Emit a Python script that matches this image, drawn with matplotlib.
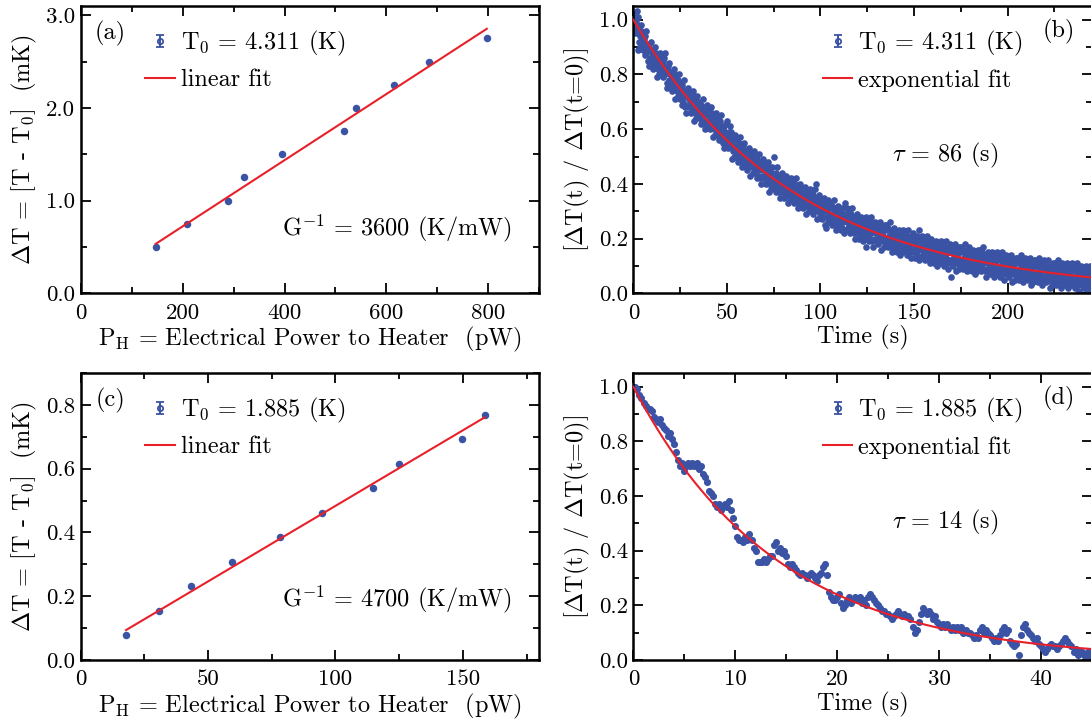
import numpy as np
import matplotlib
matplotlib.use("Agg")
import matplotlib.pyplot as plt
from matplotlib.ticker import MultipleLocator, FormatStrFormatter
from matplotlib.container import ErrorbarContainer
from matplotlib.legend_handler import HandlerErrorbar

plt.rcParams["font.family"] = "cmr10"
plt.rcParams["mathtext.fontset"] = "cm"
plt.rcParams["axes.formatter.use_mathtext"] = True

BLUE = "#3a53a4"
RED = "#e8202a"
FS_TICK = 16.5
FS_TEXT = 17.5

# (a) steady state, T0 = 4.311 K
power_a = [147, 208, 290, 321, 396, 517, 540, 614, 683, 797]
dT_a = [0.50, 0.75, 1.00, 1.25, 1.50, 1.75, 2.00, 2.25, 2.50, 2.75]
fit_a_x = [147, 797]
fit_a_y = [0.533, 2.854]

# (c) steady state, T0 = 1.885 K
power_c = [17.8, 30.6, 43.4, 59.4, 78.4, 94.9, 114.6, 125.1, 149.5, 158.6]
dT_c = [0.077, 0.154, 0.231, 0.308, 0.385, 0.462, 0.538, 0.615, 0.692, 0.769]
fit_c_x = [17.8, 158.6]
fit_c_y = [0.094, 0.761]

# (b) relaxation at 4.311 K, one sample every 0.25 s, values in percent
step_b = 0.25
relax_b = [
    102, 97, 100, 95, 101, 99, 96, 103, 98, 101,
    89, 95, 97, 92, 94, 90, 96, 98, 93, 91,
    89, 95, 90, 93, 87, 94, 91, 88, 96, 90,
    89, 85, 90, 83, 91, 89, 86, 92, 85, 88,
    89, 84, 87, 82, 88, 86, 83, 90, 85, 88,
    79, 85, 87, 82, 84, 80, 86, 88, 83, 81,
    81, 87, 82, 85, 79, 86, 83, 80, 88, 82,
    81, 77, 82, 75, 83, 81, 78, 84, 77, 80,
    81, 76, 79, 74, 80, 78, 75, 82, 77, 80,
    71, 77, 79, 74, 76, 72, 78, 80, 75, 73,
    71, 77, 72, 75, 69, 76, 73, 70, 78, 72,
    72, 68, 73, 66, 74, 72, 69, 75, 68, 71,
    73, 68, 71, 66, 72, 70, 67, 74, 69, 72,
    63, 69, 71, 66, 68, 64, 70, 72, 67, 65,
    64, 70, 65, 68, 62, 69, 66, 63, 71, 65,
    66, 62, 67, 60, 68, 66, 63, 69, 62, 65,
    67, 62, 65, 60, 66, 64, 61, 68, 63, 66,
    57, 63, 65, 60, 62, 58, 64, 66, 61, 59,
    58, 64, 59, 62, 56, 63, 60, 57, 65, 59,
    59, 55, 60, 53, 61, 59, 56, 62, 55, 58,
    63, 55, 58, 53, 59, 57, 54, 61, 56, 59,
    49, 55, 57, 52, 54, 50, 56, 58, 53, 51,
    50, 56, 51, 54, 48, 55, 52, 49, 57, 51,
    52, 48, 53, 46, 54, 52, 49, 55, 48, 51,
    52, 47, 50, 45, 51, 49, 46, 53, 48, 51,
    43, 49, 51, 46, 48, 44, 50, 52, 47, 45,
    44, 50, 45, 48, 42, 49, 46, 43, 51, 45,
    46, 42, 47, 40, 48, 46, 43, 49, 42, 45,
    47, 42, 45, 40, 46, 44, 41, 48, 43, 46,
    37, 43, 45, 40, 42, 38, 44, 46, 41, 39,
    39, 50, 40, 43, 37, 44, 41, 38, 46, 40,
    41, 37, 42, 35, 43, 41, 38, 44, 37, 40,
    42, 37, 40, 35, 41, 39, 36, 43, 38, 41,
    33, 39, 41, 36, 38, 34, 40, 42, 37, 35,
    35, 41, 36, 39, 33, 40, 37, 34, 42, 36,
    37, 33, 38, 31, 39, 37, 34, 40, 33, 36,
    38, 33, 36, 31, 37, 35, 32, 39, 34, 37,
    29, 35, 37, 32, 34, 30, 36, 38, 33, 31,
    31, 37, 32, 35, 29, 36, 33, 30, 38, 32,
    33, 40, 34, 27, 35, 33, 30, 36, 29, 32,
    34, 29, 32, 27, 33, 31, 28, 35, 30, 33,
    25, 31, 24, 28, 30, 26, 32, 34, 29, 27,
    27, 33, 28, 31, 25, 32, 29, 26, 34, 28,
    29, 25, 30, 23, 31, 29, 26, 32, 25, 28,
    30, 25, 28, 23, 29, 27, 24, 31, 26, 29,
    22, 27, 29, 33, 27, 23, 29, 31, 26, 24,
    24, 30, 25, 28, 22, 29, 26, 23, 31, 25,
    26, 22, 27, 20, 28, 26, 23, 29, 22, 25,
    27, 22, 25, 20, 26, 24, 21, 28, 23, 26,
    19, 25, 27, 22, 24, 20, 26, 28, 17, 21,
    21, 27, 22, 25, 19, 26, 23, 20, 28, 22,
    23, 19, 24, 17, 25, 23, 20, 26, 19, 22,
    25, 20, 23, 18, 24, 22, 19, 26, 21, 24,
    16, 22, 24, 19, 21, 17, 23, 25, 20, 18,
    19, 25, 20, 23, 17, 24, 21, 18, 26, 20,
    21, 17, 22, 15, 23, 21, 18, 24, 17, 20,
    22, 17, 20, 15, 21, 19, 16, 23, 18, 21,
    14, 20, 22, 17, 19, 15, 21, 23, 18, 16,
    16, 22, 17, 20, 14, 21, 18, 15, 23, 17,
    19, 15, 20, 13, 21, 19, 16, 22, 15, 18,
    20, 15, 18, 13, 19, 17, 14, 21, 16, 19,
    12, 23, 20, 17, 17, 13, 19, 21, 16, 14,
    14, 20, 15, 18, 12, 19, 16, 13, 21, 15,
    17, 13, 18, 11, 19, 17, 14, 20, 13, 16,
    18, 13, 16, 11, 17, 15, 12, 19, 14, 17,
    10, 16, 18, 13, 15, 11, 17, 19, 14, 12,
    12, 18, 13, 16, 10, 17, 14, 11, 19, 13,
    15, 11, 16, 9, 17, 15, 12, 18, 11, 6,
    17, 12, 15, 10, 16, 14, 11, 18, 13, 16,
    8, 14, 16, 11, 13, 9, 15, 17, 12, 10,
    11, 17, 12, 15, 9, 16, 13, 10, 18, 12,
    14, 10, 15, 8, 16, 14, 11, 17, 10, 13,
    15, 10, 13, 8, 14, 12, 9, 16, 11, 14,
    7, 13, 15, 10, 12, 8, 14, 16, 11, 9,
    10, 16, 11, 14, 8, 15, 12, 9, 17, 11,
    12, 8, 13, 6, 14, 12, 9, 15, 8, 11,
    14, 9, 12, 7, 13, 11, 8, 15, 10, 13,
    6, 12, 14, 9, 11, 7, 13, 15, 10, 8,
    8, 14, 9, 12, 6, 13, 10, 7, 15, 9,
    11, 7, 12, 5, 13, 11, 8, 14, 7, 10,
    13, 8, 11, 6, 12, 10, 7, 14, 9, 12,
    4, 10, 12, 7, 9, 5, 11, 13, 8, 6,
    7, 13, 8, 11, 5, 12, 9, 6, 14, 8,
    10, 6, 11, 4, 12, 10, 7, 13, 6, 9,
    12, 7, 10, 5, 11, 9, 6, 13, 8, 11,
    3, 9, 11, 6, 8, 4, 10, 12, 7, 5,
    6, 12, 7, 10, 4, 11, 8, 5, 13, 7,
    9, 5, 10, 3, 11, 9, 6, 12, 5, 8,
    11, 6, 9, 4, 10, 8, 5, 12, 7, 10,
    2, 8, 10, 5, 7, 3, 9, 11, 6, 4,
    5, 11, 6, 9, 3, 10, 7, 4, 12, 6,
    8, 4, 9, 2, 10, 8, 5, 11, 4, 7,
    10, 5, 8, 3, 9, 7, 4, 11, 6, 9,
    2, 8, 10, 5, 7, 3, 9, 11, 6, 4,
    4, 10, 5, 8, 2, 9, 6, 3, 11, 5,
    7, 3, 8, 1, 9, 7, 4, 10, 3, 6,
    9, 4, 7, 2, 8, 6, 3, 10, 5, 8,
    1, 7, 9, 4, 6, 2, 8, 10, 5, 3,
]
tau_b = 86

# (d) relaxation at 1.885 K, one sample every 0.2 s, values in percent
step_d = 0.2
relax_d = [
    100, 100, 99, 97, 96, 94, 93, 92, 92, 91,
    89, 88, 87, 88, 86, 85, 84, 82, 83, 81,
    79, 76, 73, 71, 72, 69, 71, 72, 71, 72,
    71, 72, 70, 71, 68, 67, 65, 62, 61, 60,
    57, 56, 57, 55, 56, 57, 56, 58, 55, 52,
    49, 45, 44, 44, 43, 45, 44, 46, 44, 41,
    40, 36, 36, 36, 37, 36, 37, 38, 38, 42,
    43, 40, 41, 39, 40, 38, 35, 34, 35, 34,
    33, 32, 31, 32, 31, 30, 31, 32, 31, 30,
    29, 31, 32, 34, 35, 31, 25, 23, 22, 22,
    23, 24, 21, 19, 20, 22, 23, 21, 22, 23,
    22, 23, 21, 22, 20, 23, 24, 23, 22, 21,
    20, 19, 18, 18, 17, 17, 16, 15, 16, 17,
    18, 17, 16, 17, 16, 16, 15, 12, 10, 11,
    14, 17, 19, 18, 17, 18, 17, 15, 16, 14,
    13, 12, 13, 12, 13, 12, 11, 12, 11, 12,
    11, 12, 10, 11, 10, 10, 9, 8, 9, 8,
    11, 12, 10, 11, 10, 9, 8, 7, 8, 7,
    9, 11, 12, 10, 11, 7, 6, 5, 6, 2,
    9, 12, 13, 11, 10, 9, 8, 7, 8, 6,
    5, 4, 3, 4, 5, 6, 5, 5, 4, 5,
    6, 7, 8, 7, 6, 5, 3, 4, 2, 3,
    3, 2, 1, 3, 1,
]
tau_d = 14

fig = plt.figure(figsize=(10.91, 7.23), dpi=100)
ax_a = fig.add_axes([0.0740, 0.5943, 0.4203, 0.3974])
ax_b = fig.add_axes([0.5805, 0.5943, 0.4203, 0.3974])
ax_c = fig.add_axes([0.0740, 0.0871, 0.4203, 0.3970])
ax_d = fig.add_axes([0.5805, 0.0871, 0.4203, 0.3970])


def style_axes(ax, xmaj, xmin, ymaj, ymin, xfmt, yfmt):
    ax.xaxis.set_major_locator(MultipleLocator(xmaj))
    ax.xaxis.set_minor_locator(MultipleLocator(xmin))
    ax.yaxis.set_major_locator(MultipleLocator(ymaj))
    ax.yaxis.set_minor_locator(MultipleLocator(ymin))
    ax.xaxis.set_major_formatter(FormatStrFormatter(xfmt))
    ax.yaxis.set_major_formatter(FormatStrFormatter(yfmt))
    ax.tick_params(which="both", direction="in", top=True, right=True,
                   width=1.3, labelsize=FS_TICK)
    ax.tick_params(which="major", length=7)
    ax.tick_params(which="minor", length=4.2)
    ax.tick_params(axis="x", pad=7)
    ax.tick_params(axis="y", pad=4)
    for sp in ax.spines.values():
        sp.set_linewidth(1.8)


def add_legend(ax, label_data, label_fit, anchor):
    proxy = ax.errorbar([np.nan], [np.nan], yerr=[0.1], fmt="o", ms=3.8,
                        mfc="none", mec=BLUE, mew=1.3, color=BLUE,
                        ecolor=BLUE, elinewidth=1.4, capsize=2.6)
    fit_handle = ax.plot([], [], color=RED, lw=1.5)[0]
    ax.legend([proxy, fit_handle], [label_data, label_fit],
              loc="upper left", bbox_to_anchor=anchor, frameon=False,
              fontsize=FS_TEXT, borderpad=0, borderaxespad=0,
              handlelength=1.2, handletextpad=0.25, labelspacing=0.45,
              handler_map={ErrorbarContainer: HandlerErrorbar(xerr_size=0.25)})


def steady_panel(ax, power, dT, fx, fy, xlim, ylim, label_data, tag, gtext, gy):
    ax.plot(power, dT, "o", ms=5.4, mew=0, color=BLUE, zorder=2)
    ax.plot(fx, fy, color=RED, lw=1.5, zorder=3)
    ax.set_xlim(*xlim)
    ax.set_ylim(*ylim)
    ax.set_xlabel(r"P$_\mathrm{H}$ = Electrical Power to Heater  (pW)",
                  fontsize=FS_TEXT, labelpad=2)
    ax.set_ylabel(r"$\Delta$T = [T - T$_0$]  (mK)", fontsize=FS_TEXT, labelpad=5)
    ax.text(0.065, 0.905, tag, transform=ax.transAxes, fontsize=FS_TEXT,
            ha="center", va="center")
    ax.text(0.9405, gy, gtext, transform=ax.transAxes, fontsize=FS_TEXT,
            ha="right", va="center")
    add_legend(ax, label_data, "linear fit", (0.1410, 0.92))


def relax_panel(ax, values, step, tau, xlim, label_data, tag, tau_y, ms):
    t = np.arange(len(values)) * step
    ax.plot(t, np.array(values) / 100.0, "o", ms=ms, mew=0, color=BLUE, zorder=2)
    t_fit = np.linspace(0, xlim[1], 400)
    ax.plot(t_fit, np.exp(-t_fit / tau), color=RED, lw=1.5, zorder=3)
    ax.set_xlim(*xlim)
    ax.set_ylim(0, 1.05)
    ax.spines["right"].set_visible(False)
    ax.set_xlabel("Time (s)", fontsize=FS_TEXT, labelpad=2)
    ax.set_ylabel(r"[$\Delta$T(t) / $\Delta$T(t=0)]", fontsize=FS_TEXT, labelpad=5)
    ax.text(0.928, 0.91, tag, transform=ax.transAxes, fontsize=FS_TEXT,
            ha="center", va="center")
    ax.text(0.68, tau_y, r"$\tau$ = %d (s)" % tau, transform=ax.transAxes,
            fontsize=FS_TEXT, ha="center", va="center")
    add_legend(ax, label_data, "exponential fit", (0.4140, 0.92))


steady_panel(ax_a, power_a, dT_a, fit_a_x, fit_a_y, (0, 900), (0, 3.1),
             r"T$_0$ = 4.311 (K)", "(a)", r"G$^{-1}$ = 3600 (K/mW)", 0.226)
style_axes(ax_a, 200, 100, 1.0, 0.5, "%d", "%.1f")

steady_panel(ax_c, power_c, dT_c, fit_c_x, fit_c_y, (0, 180), (0, 0.9),
             r"T$_0$ = 1.885 (K)", "(c)", r"G$^{-1}$ = 4700 (K/mW)", 0.212)
style_axes(ax_c, 50, 25, 0.2, 0.1, "%d", "%.1f")

relax_panel(ax_b, relax_b, step_b, tau_b, (0, 245), r"T$_0$ = 4.311 (K)",
            "(b)", 0.481, 4.8)
style_axes(ax_b, 50, 25, 0.2, 0.1, "%d", "%.1f")

relax_panel(ax_d, relax_d, step_d, tau_d, (0, 45), r"T$_0$ = 1.885 (K)",
            "(d)", 0.478, 5.1)
style_axes(ax_d, 10, 5, 0.2, 0.1, "%d", "%.1f")

fig.savefig("out.png", dpi=100)
